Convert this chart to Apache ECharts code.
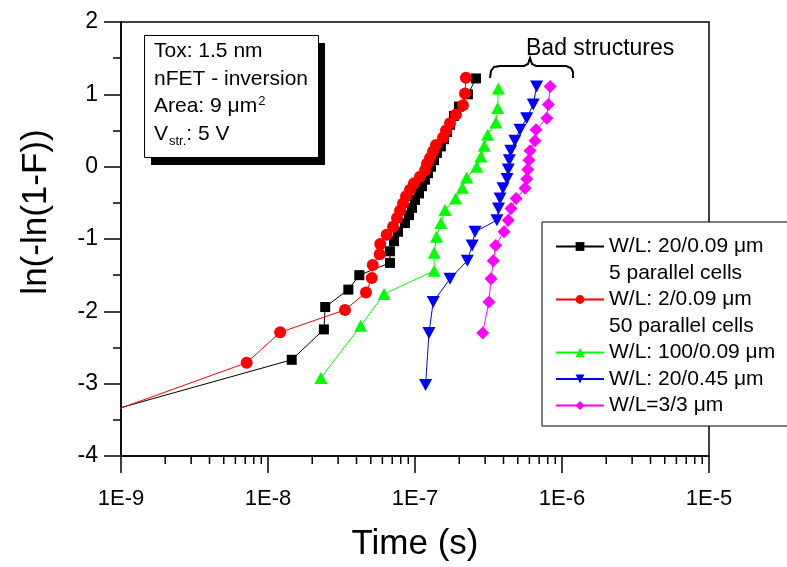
<!DOCTYPE html>
<html><head><meta charset="utf-8">
<script src="https://cdn.jsdelivr.net/npm/echarts@6/dist/echarts.min.js"></script>
<style>html,body{margin:0;padding:0;background:#fff}#c{width:787px;height:567px}</style>
</head><body><div id="c"></div>
<script>
const FONT = '"Liberation Sans", Arial, sans-serif';

// ---- data ----
const xTickLabels = ['1E-9', '1E-8', '1E-7', '1E-6', '1E-5'];
const yTickLabels = ['-4', '-3', '-2', '-1', '0', '1', '2'];
const minorMultipliers = [2, 3, 4, 5, 6, 7, 8, 9];
const xTitle = 'Time (s)';
const yTitle = 'ln(-ln(1-F))';

const seriesNames = ['W/L: 20/0.09 \u03bcm', '5 parallel cells', 'W/L: 2/0.09 \u03bcm', '50 parallel cells',
  'W/L: 100/0.09 \u03bcm', 'W/L: 20/0.45 \u03bcm', 'W/L=3/3 \u03bcm'];

const blackX = [8.2e-10, 1.45e-8, 2.40e-8, 2.45e-8, 3.52e-8, 4.18e-8, 6.76e-8, 6.76e-8, 7.2e-8, 7.66e-8,
  8.55e-8, 9.1e-8, 9.54e-8, 1.0e-7, 1.065e-7, 1.116e-7, 1.17e-7, 1.226e-7, 1.285e-7, 1.347e-7,
  1.41e-7, 1.50e-7, 1.575e-7, 1.65e-7, 1.73e-7, 1.84e-7, 1.99e-7, 2.29e-7, 2.60e-7];
const blackY = [-3.38, -2.67, -2.25, -1.94, -1.70, -1.50, -1.33, -1.17, -1.03, -0.90,
  -0.78, -0.67, -0.57, -0.46, -0.37, -0.27, -0.18, -0.09, 0.00, 0.09,
  0.19, 0.28, 0.38, 0.48, 0.58, 0.70, 0.83, 1.00, 1.22];

const redX = [7.7e-10, 7.16e-9, 1.21e-8, 3.34e-8, 4.64e-8, 5.08e-8, 5.16e-8, 5.75e-8, 5.8e-8, 6.42e-8,
  7.09e-8, 7.54e-8, 7.91e-8, 8.29e-8, 8.69e-8, 9.25e-8, 9.84e-8, 1.081e-7, 1.17e-7, 1.206e-7,
  1.265e-7, 1.326e-7, 1.39e-7, 1.55e-7, 1.625e-7, 1.73e-7, 1.90e-7, 2.12e-7, 2.19e-7, 2.22e-7];
const redY = [-3.42, -2.71, -2.29, -1.98, -1.74, -1.54, -1.36, -1.21, -1.07, -0.94,
  -0.83, -0.71, -0.61, -0.51, -0.41, -0.32, -0.23, -0.14, -0.05, 0.04,
  0.12, 0.21, 0.30, 0.40, 0.50, 0.60, 0.72, 0.85, 1.01, 1.23];

const greenX = [2.29e-8, 4.27e-8, 6.16e-8, 1.35e-7, 1.35e-7, 1.40e-7, 1.50e-7, 1.60e-7, 1.89e-7, 2.10e-7,
  2.25e-7, 2.63e-7, 2.81e-7, 2.96e-7, 3.12e-7, 3.55e-7, 3.65e-7, 3.69e-7];
const greenY = [-2.92, -2.20, -1.76, -1.44, -1.19, -0.97, -0.78, -0.60, -0.44, -0.29,
  -0.15, 0.00, 0.14, 0.29, 0.44, 0.61, 0.81, 1.08];

const blueX = [1.18e-7, 1.245e-7, 1.33e-7, 1.73e-7, 2.27e-7, 2.45e-7, 2.56e-7, 3.61e-7, 3.70e-7, 3.79e-7,
  3.97e-7, 4.23e-7, 4.31e-7, 4.38e-7, 4.48e-7, 4.78e-7, 5.18e-7, 5.75e-7, 6.37e-7, 6.72e-7];
const blueY = [-3.02, -2.30, -1.87, -1.55, -1.30, -1.09, -0.90, -0.74, -0.58, -0.44,
  -0.30, -0.17, -0.04, 0.09, 0.22, 0.36, 0.51, 0.67, 0.86, 1.11];

const magentaX = [2.89e-7, 3.18e-7, 3.29e-7, 3.41e-7, 3.54e-7, 4.03e-7, 4.31e-7, 4.50e-7, 4.87e-7, 5.6e-7,
  5.75e-7, 5.85e-7, 5.95e-7, 6.06e-7, 6.55e-7, 6.65e-7, 7.88e-7, 8.08e-7, 8.3e-7];
const magentaY = [-2.30, -1.87, -1.55, -1.30, -1.09, -0.90, -0.74, -0.58, -0.44, -0.30,
  -0.17, -0.04, 0.09, 0.22, 0.36, 0.51, 0.67, 0.86, 1.11];

// ---- build ----
const X_MIN = 1e-9, X_MAX = 1e-5, Y_MIN = -4, Y_MAX = 2;
const zip = (xs, ys) => xs.map((x, i) => [x, ys[i]]);
const minorTicks = [];
for (let d = -9; d < -5; d++) minorMultipliers.forEach(m => minorTicks.push([m * Math.pow(10, d), Y_MIN]));

function dataSeries(name, xs, ys, color, symbol, size, rotate) {
  return {
    name, type: 'line', data: zip(xs, ys), symbol, symbolSize: size, symbolRotate: rotate || 0,
    showSymbol: true, clip: true, animation: false,
    itemStyle: { color, borderWidth: 0 },
    lineStyle: { color, width: 1 },
    emphasis: { disabled: true }
  };
}
function dummy(name) {
  return { name, type: 'line', data: [], symbol: 'none',
    itemStyle: { color: 'rgba(0,0,0,0)' }, lineStyle: { color: 'rgba(0,0,0,0)', width: 0 } };
}

const chart = echarts.init(document.getElementById('c'), null, { renderer: 'canvas' });
chart.setOption({
  animation: false,
  backgroundColor: '#fff',
  grid: { left: 121, top: 22, width: 588, height: 434, show: true, borderColor: '#000', borderWidth: 1.5, backgroundColor: 'transparent' },
  xAxis: {
    type: 'log', logBase: 10, min: X_MIN, max: X_MAX, splitNumber: 4,
    name: xTitle, nameLocation: 'middle', nameGap: 71,
    nameTextStyle: { fontFamily: FONT, fontSize: 35, color: '#000' },
    axisLine: { show: true, onZero: false, lineStyle: { color: '#000', width: 1.5 } },
    axisTick: { show: true, inside: false, length: 17, lineStyle: { color: '#000', width: 1.5 } },
    axisLabel: { margin: 32, fontFamily: FONT, fontSize: 22, color: '#000',
      formatter: v => xTickLabels[Math.round(Math.log10(v)) + 9] },
    splitLine: { show: false }
  },
  yAxis: {
    type: 'value', min: Y_MIN, max: Y_MAX, interval: 1,
    axisLine: { show: true, onZero: false, lineStyle: { color: '#000', width: 1.5 } },
    axisTick: { show: true, inside: false, length: 17, lineStyle: { color: '#000', width: 1.5 } },
    minorTick: { show: true, splitNumber: 2, length: 8, lineStyle: { color: '#000', width: 1.5 } },
    axisLabel: { margin: 23, fontFamily: FONT, fontSize: 23, color: '#000',
      formatter: v => yTickLabels[Math.round(v) - Y_MIN] },
    splitLine: { show: false }
  },
  legend: {
    orient: 'vertical', left: 542, top: 222,
    padding: [14, 13, 10, 13],
    itemWidth: 48, itemHeight: 11, itemGap: 5.5,
    backgroundColor: '#fff', borderColor: '#000', borderWidth: 1,
    selectedMode: false,
    textStyle: { fontFamily: FONT, fontSize: 21, color: '#000', lineHeight: 21 },
    data: seriesNames
  },
  graphic: [
    { type: 'text', x: 36, y: 212, rotation: Math.PI / 2, z: 12,
      style: { text: yTitle, fontFamily: FONT, fontSize: 35, fill: '#000', align: 'center', verticalAlign: 'middle' } },
    { type: 'rect', left: 151, top: 43, z: 10, shape: { width: 174, height: 122 }, style: { fill: '#000' } },
    { type: 'rect', left: 144, top: 35, z: 11, shape: { width: 174, height: 122 }, style: { fill: '#fff', stroke: '#000', lineWidth: 1 } },
    { type: 'text', left: 154, top: 41, z: 12,
      style: {
        text: '{n|Tox: 1.5 nm}\n{n|nFET - inversion}\n{n|Area: 9 \u03bcm}{sup|2}\n{n|V}{sub|str.}{n|: 5 V}',
        rich: {
          n: { fontFamily: FONT, fontSize: 21, lineHeight: 27.5, fill: '#000', verticalAlign: 'middle' },
          sup: { fontFamily: FONT, fontSize: 13, lineHeight: 13, fill: '#000', verticalAlign: 'top', padding: [2, 0, 0, 1] },
          sub: { fontFamily: FONT, fontSize: 13, lineHeight: 13, fill: '#000', verticalAlign: 'bottom', padding: [0, 0, 0, 1] }
        }
      } },
    { type: 'text', left: 526, top: 37, z: 12, style: { text: 'Bad structures', fontFamily: FONT, fontSize: 23, fill: '#000' } },
    { type: 'polyline', z: 12, shape: { points: [[490, 78], [491, 71], [494, 67], [500, 66], [524, 66], [528, 64], [530, 58], [532, 64], [536, 66], [566, 66], [571, 68], [573, 72], [573, 78]] },
      style: { stroke: '#000', lineWidth: 2, fill: null } }
  ],
  series: [
    dataSeries(seriesNames[0], blackX, blackY, '#000000', 'rect', 10),
    dummy(seriesNames[1]),
    dataSeries(seriesNames[2], redX, redY, '#ff0000', 'circle', 12),
    dummy(seriesNames[3]),
    dataSeries(seriesNames[4], greenX, greenY, '#00ff00', 'triangle', [13, 12]),
    dataSeries(seriesNames[5], blueX, blueY, '#0000ff', 'triangle', [13, 12], 180),
    dataSeries(seriesNames[6], magentaX, magentaY, '#ff00ff', 'diamond', [13, 13]),
    {
      type: 'custom', data: minorTicks, silent: true, clip: false, z: 3,
      renderItem: (params, api) => {
        const p = api.coord([api.value(0), api.value(1)]);
        return { type: 'line', shape: { x1: p[0], y1: p[1], x2: p[0], y2: p[1] + 8 },
          style: { stroke: '#000', lineWidth: 1.5 } };
      }
    }
  ]
});
</script></body></html>
